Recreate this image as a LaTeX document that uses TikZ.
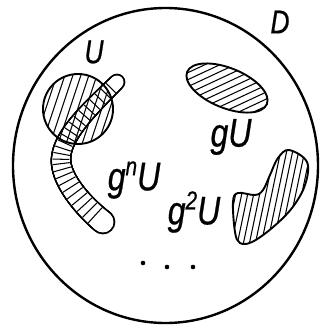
\documentclass[tikz,border=0pt]{standalone}
\usepackage{fontspec}
\setmainfont{Liberation Sans}
\newfontfamily\labfont[FakeStretch=0.8,FakeBold=0.6]{Liberation Sans}
% point, unit normal of a cubic Bezier at parameter #1
\newcommand\mybez[9]{%
 \pgfmathsetmacro\tbu{1-#1}%
 \pgfmathsetmacro\tbx{\tbu*\tbu*\tbu*#2+3*\tbu*\tbu*#1*#4+3*\tbu*#1*#1*#6+#1*#1*#1*#8}%
 \pgfmathsetmacro\tby{\tbu*\tbu*\tbu*#3+3*\tbu*\tbu*#1*#5+3*\tbu*#1*#1*#7+#1*#1*#1*#9}%
 \pgfmathsetmacro\tdx{(3*\tbu*\tbu*(#4-#2)+6*\tbu*#1*(#6-#4)+3*#1*#1*(#8-#6))/100}%
 \pgfmathsetmacro\tdy{(3*\tbu*\tbu*(#5-#3)+6*\tbu*#1*(#7-#5)+3*#1*#1*(#9-#7))/100}%
 \pgfmathsetmacro\tdl{sqrt(\tdx*\tdx+\tdy*\tdy)}%
 \pgfmathsetmacro\tnx{-1*(\tdy)/\tdl}%
 \pgfmathsetmacro\tny{(\tdx)/\tdl}}
\newcommand\segA[1]{\mybez{#1}{117}{82}{92}{107}{61}{135}{61}{160}}
\newcommand\segB[1]{\mybez{#1}{61}{160}{61}{180}{83}{206}{103}{222}}
\begin{document}
\begin{tikzpicture}[x=1pt,y=-1pt,
  outl/.style={line width=1.9pt},
  hatchln/.style={line width=1.05pt},
  lab/.style={font=\labfont\itshape\fontsize{40}{40}\selectfont, inner sep=0pt},
  smalllab/.style={font=\labfont\itshape\fontsize{33}{33}\selectfont, inner sep=0pt}]
\useasboundingbox (0,0) rectangle (322,327);
% domain D
\draw[line width=2.4pt] (165.5,165.5) ellipse[x radius=152.5, y radius=157.5];
\node[smalllab] (D) at (280,22) {D};
% g^n U tube: black body, white interior, cross hatching
\foreach \t in {0,0.01,...,1.001} {\segA{\t}\pgfmathsetmacro\hw{6.5+2*\t}\fill (\tbx,\tby) circle[radius=\hw+1.9];}
\foreach \t in {0,0.01,...,1.001} {\segB{\t}\pgfmathsetmacro\hw{8.5+2*\t}\fill (\tbx,\tby) circle[radius=\hw+1.9];}
\foreach \t in {0,0.01,...,1.001} {\segA{\t}\pgfmathsetmacro\hw{6.5+2*\t}\fill[white] (\tbx,\tby) circle[radius=\hw];}
\foreach \t in {0,0.01,...,1.001} {\segB{\t}\pgfmathsetmacro\hw{8.5+2*\t}\fill[white] (\tbx,\tby) circle[radius=\hw];}
\foreach \t in {0.08,0.15,...,0.99} {\segA{\t}\pgfmathsetmacro\hw{6.5+2*\t}\draw[hatchln] (\tbx+\hw*\tnx,\tby+\hw*\tny) -- (\tbx-\hw*\tnx,\tby-\hw*\tny);}
\foreach \t in {0.06,0.15,...,0.93} {\segB{\t}\pgfmathsetmacro\hw{8.5+2*\t}\draw[hatchln] (\tbx+\hw*\tnx,\tby+\hw*\tny) -- (\tbx-\hw*\tnx,\tby-\hw*\tny);}
% U circle
\begin{scope}
  \clip (78,109) circle[radius=35];
  \foreach \t in {0,8,...,136} \draw[hatchln] (\t,150) -- (\t+30,60);
\end{scope}
\draw[outl] (78,109) circle[radius=35];
\node[smalllab] (U) at (94,52) {U};
% gU ellipse
\begin{scope}
  \clip[rotate around={-22:(227,88)}] (227,88) ellipse[x radius=43, y radius=20];
  \foreach \t in {60,67,...,190} \draw[hatchln] (170,\t) -- (290,\t-56);
\end{scope}
\draw[outl, rotate around={-22:(227,88)}] (227,88) ellipse[x radius=43, y radius=20];
% g^2 U blob
\begin{scope}
  \clip plot[smooth cycle, tension=0.6] coordinates {(238,193) (255,195) (263,190) (270,175) (278,158) (289,150) (307,162) (305,185) (292,208) (272,228) (252,242) (240,243) (235,232) (233,202)};
  \foreach \t in {200,206,...,330} \draw[hatchln] (\t,250) -- (\t+22,145);
\end{scope}
\draw[outl] plot[smooth cycle, tension=0.6] coordinates {(238,193) (255,195) (263,190) (270,175) (278,158) (289,150) (307,162) (305,185) (292,208) (272,228) (252,242) (240,243) (235,232) (233,202)};
% labels
\node[lab] (gU) at (231,137) {gU};
\node[lab] (gnU) at (134,180) {g\raisebox{15pt}{\fontsize{26}{26}\selectfont n}U};
\node[lab] (g2U) at (194,212) {g\raisebox{15pt}{\fontsize{26}{26}\selectfont 2}U};
% dots
\fill (143,263) circle[radius=2.3];
\fill (167,267) circle[radius=2.3];
\fill (193,267) circle[radius=2.3];
\end{tikzpicture}
\end{document}
